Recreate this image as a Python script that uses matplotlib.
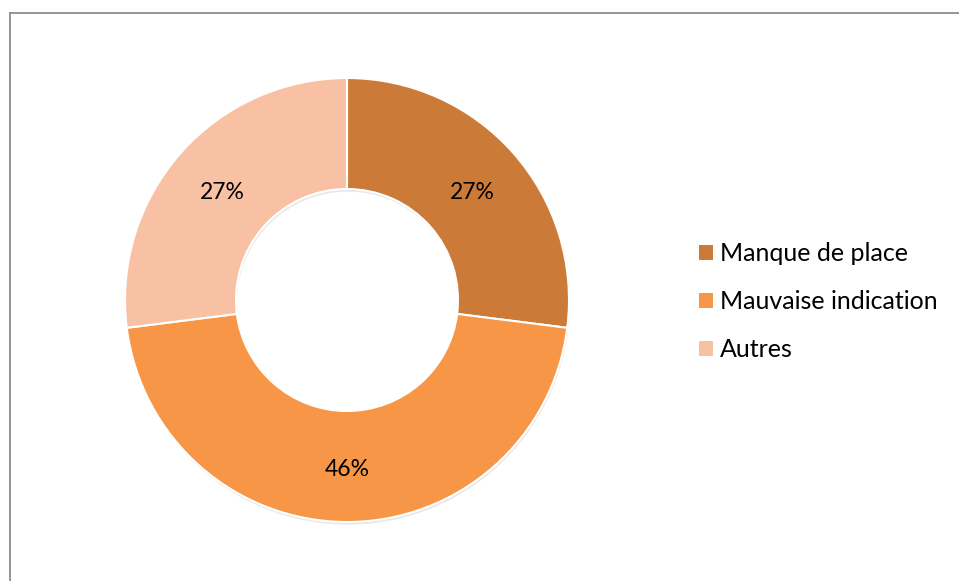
import matplotlib
matplotlib.use("Agg")
import matplotlib.pyplot as plt
import numpy as np
from matplotlib.lines import Line2D
from matplotlib.patches import Patch

# données du graphique
categories = ["Manque de place", "Mauvaise indication", "Autres"]
valeurs = [27, 46, 27]
couleurs = ["#CC7A38", "#F79646", "#F9C1A4"]

plt.rcParams['font.family'] = ['Lato', 'DejaVu Sans']

W, H = 959, 581
fig = plt.figure(figsize=(W / 100, H / 100), dpi=100)

# anneau : centre (347, 300), rayon 222 px
cx, cy, r = 347, 300, 222
ax = fig.add_axes([(cx - r) / W, (H - cy - r) / H, 2 * r / W, 2 * r / H])

# ombre légère
ombre = ax.pie([1], radius=1.0, colors=["#d9d9d9"], startangle=90,
               wedgeprops=dict(width=0.5, linewidth=0), center=(0.004, -0.012))
for w in ombre[0]:
    w.set_alpha(0.6)

wedges, textes = ax.pie(valeurs, colors=couleurs, startangle=90, counterclock=False,
                        radius=1.0, wedgeprops=dict(width=0.5, edgecolor="white", linewidth=1.5))

angle = 90.0
for v in valeurs:
    mid = angle - v / sum(valeurs) * 360 / 2
    angle -= v / sum(valeurs) * 360
    x = 0.75 * np.cos(np.radians(mid))
    y = 0.75 * np.sin(np.radians(mid)) - 0.014
    ax.text(x, y, f"{v}%", ha="center", va="center", fontsize=16.5, color="#000000")

ax.set_xlim(-1.0, 1.0)
ax.set_ylim(-1.0, 1.0)
ax.set_aspect("equal")
ax.axis("off")

handles = [Patch(facecolor=c, edgecolor="none") for c in couleurs]
fig.legend(handles, categories, loc="center left",
           bbox_to_anchor=(699 / W, 1 - 301.5 / H), frameon=False,
           fontsize=18, handlelength=0.55, handleheight=0.55, handletextpad=0.3,
           labelspacing=1.0, borderaxespad=0, borderpad=0)

# cadre gris (bords gauche et haut seulement visibles)
x0 = 9.5 / W
y0 = 1 - 12.5 / H
fig.add_artist(Line2D([x0, x0], [0, y0], transform=fig.transFigure, color="#8c8c8c", linewidth=1.3))
fig.add_artist(Line2D([x0, 1], [y0, y0], transform=fig.transFigure, color="#8c8c8c", linewidth=1.3))

fig.savefig("out.png", dpi=100)
